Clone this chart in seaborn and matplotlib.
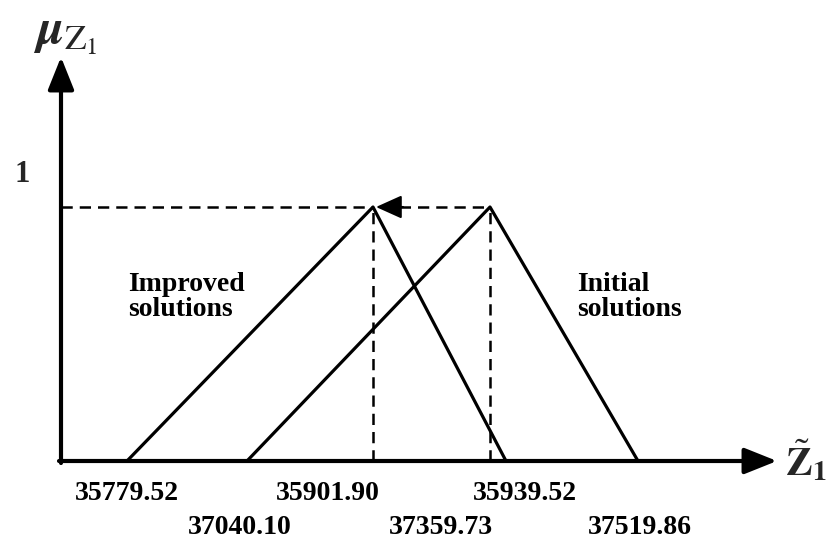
import numpy as np
import pandas as pd
import matplotlib
matplotlib.use("Agg")
import matplotlib.pyplot as plt
import seaborn as sns

# schematic positions of the triangular fuzzy numbers (diagram units)
improved_x = [127, 373, 506]
initial_x = [247, 490, 638]
tri_mu = [0.0, 1.0, 0.0]

# values printed under the axis
improved_labels = ["35779.52", "35901.90", "35939.52"]
improved_label_x = [127, 328, 525]
initial_labels = ["37040.10", "37359.73", "37519.86"]
initial_label_x = [240, 441, 640]

sns.set_theme(style="white")
plt.rcParams["font.family"] = ["Liberation Serif", "DejaVu Serif"]
plt.rcParams["mathtext.fontset"] = "stix"

df = pd.DataFrame({
    "x": improved_x + initial_x,
    "mu": tri_mu + tri_mu,
    "set": ["Improved"] * 3 + ["Initial"] * 3,
})

fig = plt.figure(figsize=(8.31, 5.46), dpi=100)
ax = fig.add_axes([0, 0, 1, 1])
px = 254.0  # pixels per membership unit
ax.set_xlim(0, 831)
ax.set_ylim(-85 / px, 461 / px)
ax.axis("off")

sns.lineplot(data=df, x="x", y="mu", units="set", estimator=None, sort=False,
             color="black", linewidth=2.3, ax=ax, legend=False)

# axes with arrow heads
head = "-|>,head_length=1.0,head_width=0.4"
ax.annotate("", xy=(777, 0), xytext=(59, 0),
            arrowprops=dict(arrowstyle=head, color="black", lw=3,
                            mutation_scale=20, shrinkA=0, shrinkB=0))
ax.annotate("", xy=(61, (461 - 57) / px), xytext=(61, -2 / px),
            arrowprops=dict(arrowstyle=head, color="black", lw=3,
                            mutation_scale=20, shrinkA=0, shrinkB=0))

# dashed guides
peak_mu = tri_mu[1]
dash = (0, (4.5, 2.8))
ax.plot([61, improved_x[1]], [peak_mu, peak_mu], color="black", lw=1.8, linestyle=dash)
ax.plot([improved_x[1] + 8, initial_x[1]], [peak_mu, peak_mu], color="black", lw=1.8,
        linestyle=dash)
for xv in [improved_x[1], initial_x[1]]:
    ax.plot([xv, xv], [0, peak_mu], color="black", lw=1.8, linestyle=dash)
ax.annotate("", xy=(improved_x[1] + 3, peak_mu), xytext=(improved_x[1] + 30, peak_mu),
            arrowprops=dict(arrowstyle="-|>,head_length=1.0,head_width=0.45",
                            color="black", lw=1.5, mutation_scale=16, shrinkA=0, shrinkB=0))

# texts
bold = dict(fontweight="bold", fontsize=20, color="black")
ax.text(22, (461 - 174) / px, "1", ha="center", va="center", fontweight="bold", fontsize=22)
ax.text(33, (461 - 34) / px, r"$\boldsymbol{\mu}_{\mathrm{Z}_{\mathrm{1}}}$",
        ha="left", va="center", fontsize=36)
ax.text(785, (461 - 462) / px, r"$\tilde{\mathbf{Z}}_{\mathbf{1}}$",
        ha="left", va="center", fontsize=29)
ax.text(128, (461 - 297) / px, "Improved\nsolutions", ha="left", va="center",
        linespacing=1.05, **bold)
ax.text(577, (461 - 297) / px, "Initial\nsolutions", ha="left", va="center",
        linespacing=1.05, **bold)
for lab, xv in zip(improved_labels, improved_label_x):
    ax.text(xv, (461 - 494) / px, lab, ha="center", va="center", **bold)
for lab, xv in zip(initial_labels, initial_label_x):
    ax.text(xv, (461 - 528) / px, lab, ha="center", va="center", **bold)

fig.savefig("out.png", dpi=100, facecolor="white")
